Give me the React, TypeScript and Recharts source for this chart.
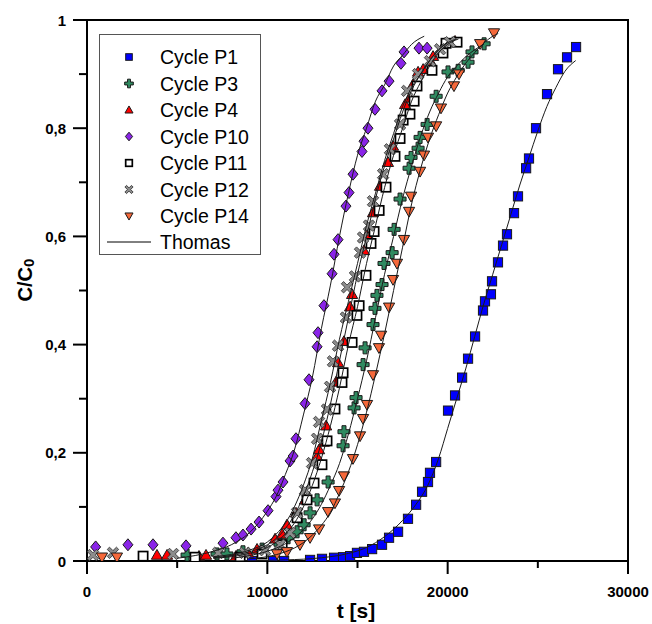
import React from 'react';
import { ScatterChart, Scatter, XAxis, YAxis, Legend, ReferenceArea } from 'recharts';

const FONT = '"Liberation Sans", Arial, Helvetica, sans-serif';

// ---------- data (t [s], C/C0) ----------
const cycleP1: [number, number][] = [
  [9150, 0], [10320, 0], [10930, 0], [12370, 0.002], [13030, 0.004], [13700, 0.006], [14200, 0.007],
  [14590, 0.009], [14970, 0.015], [15360, 0.017], [15810, 0.022], [16360, 0.03], [16750, 0.043],
  [17250, 0.054], [17800, 0.078], [18250, 0.104], [18580, 0.128], [18910, 0.146], [19020, 0.163],
  [19360, 0.183], [20020, 0.278], [20410, 0.306], [20800, 0.339], [21130, 0.374], [21520, 0.415],
  [21960, 0.463], [22070, 0.48], [22400, 0.493], [22460, 0.517], [22790, 0.552], [23070, 0.583],
  [23290, 0.604], [23680, 0.643], [23900, 0.674], [24350, 0.726], [24510, 0.744], [24900, 0.8],
  [25510, 0.863], [26120, 0.909], [26620, 0.931], [27120, 0.95],
];
const cycleP3: [number, number][] = [
  [5550, 0.011], [7210, 0.013], [7760, 0.013], [8650, 0.017], [9710, 0.022], [10700, 0.031],
  [11150, 0.043], [11650, 0.054], [12040, 0.067], [12370, 0.089], [12760, 0.113], [13370, 0.146],
  [14200, 0.213], [14250, 0.239], [14810, 0.283], [14920, 0.302], [15310, 0.363], [15420, 0.394],
  [15860, 0.437], [15970, 0.467], [16080, 0.491], [16360, 0.511], [16470, 0.55], [16920, 0.57],
  [17030, 0.613], [17360, 0.669], [17860, 0.726], [17970, 0.746], [18360, 0.763], [18470, 0.783],
  [18860, 0.807], [19360, 0.859], [20020, 0.904], [20580, 0.907], [21130, 0.922], [21350, 0.941],
  [22020, 0.956],
];
const cycleP4: [number, number][] = [
  [3880, 0.011], [4440, 0.011], [6210, 0.009], [6600, 0.011], [8260, 0.009], [8930, 0.015],
  [9430, 0.022], [10430, 0.041], [10820, 0.05], [11090, 0.067], [11590, 0.089], [12090, 0.113],
  [12760, 0.193], [12870, 0.206], [13140, 0.22], [13260, 0.25], [13810, 0.331], [13920, 0.367],
  [14250, 0.406], [14590, 0.47], [14700, 0.493], [15360, 0.574], [15530, 0.602], [15860, 0.644],
  [16250, 0.693], [16690, 0.737], [16970, 0.767], [17640, 0.844], [17910, 0.856], [18080, 0.881],
  [18360, 0.904], [18640, 0.909], [19080, 0.922], [19190, 0.933], [19850, 0.957], [20410, 0.961],
];
const cycleP10: [number, number][] = [
  [480, 0.026], [2270, 0.03], [3660, 0.03], [5490, 0.028], [7540, 0.033], [8260, 0.043],
  [8650, 0.048], [9100, 0.059], [9540, 0.072], [10040, 0.093], [10480, 0.119], [10590, 0.131],
  [10870, 0.146], [11260, 0.185], [11430, 0.194], [11590, 0.226], [12090, 0.291], [12310, 0.335],
  [12760, 0.396], [12810, 0.422], [13140, 0.472], [13590, 0.531], [13700, 0.567], [13920, 0.594],
  [14360, 0.656], [14530, 0.681], [14750, 0.715], [15250, 0.757], [15360, 0.776], [15580, 0.8],
  [15970, 0.835], [16360, 0.869], [16750, 0.887], [17410, 0.92], [17580, 0.941], [18410, 0.948],
  [18860, 0.948],
];
const cycleP11: [number, number][] = [
  [3110, 0.009], [5990, 0.007], [8490, 0.007], [9710, 0.013], [10820, 0.03], [11650, 0.08],
  [12200, 0.113], [12590, 0.144], [13030, 0.178], [13310, 0.222], [13750, 0.281], [14140, 0.33],
  [14200, 0.348], [14700, 0.404], [14970, 0.454], [15090, 0.472], [15470, 0.528], [15750, 0.587],
  [15920, 0.609], [16200, 0.648], [16580, 0.691], [17080, 0.748], [17360, 0.781], [17530, 0.815],
  [17910, 0.826], [18140, 0.85], [18300, 0.878], [19130, 0.907], [19740, 0.939], [19910, 0.957],
  [20520, 0.959],
];
const cycleP12: [number, number][] = [
  [330, 0.011], [1440, 0.015], [4770, 0.013], [7270, 0.015], [8760, 0.015], [9870, 0.02],
  [10700, 0.03], [11260, 0.052], [11650, 0.089], [12090, 0.131], [12480, 0.181], [12760, 0.226],
  [12870, 0.257], [13310, 0.28], [13480, 0.322], [13640, 0.369], [13920, 0.398], [14360, 0.45],
  [14420, 0.506], [14860, 0.526], [15140, 0.57], [15310, 0.598], [15640, 0.62], [15860, 0.665],
  [16420, 0.715], [16800, 0.761], [17360, 0.807], [17750, 0.869], [18360, 0.9], [19020, 0.924],
  [19580, 0.946], [20130, 0.959],
];
const cycleP14: [number, number][] = [
  [830, 0.007], [1660, 0.007], [10540, 0.013], [11090, 0.017], [11810, 0.03], [12370, 0.043],
  [12870, 0.059], [13370, 0.091], [13750, 0.107], [13980, 0.13], [14250, 0.157], [14750, 0.189],
  [15140, 0.231], [15310, 0.263], [15530, 0.289], [15860, 0.344], [16190, 0.394], [16310, 0.417],
  [16750, 0.469], [16970, 0.52], [17190, 0.55], [17580, 0.594], [17860, 0.646], [17970, 0.674],
  [18470, 0.72], [18690, 0.75], [18910, 0.783], [19360, 0.804], [19630, 0.837], [20350, 0.878],
  [20630, 0.9], [21800, 0.956], [22570, 0.976],
];

// Thomas model curves
const thomasP1: [number, number][] = [
  [8000, 0], [11000, 0.002], [13000, 0.006], [14500, 0.014], [15500, 0.025], [16500, 0.045],
  [17500, 0.075], [18250, 0.105], [18900, 0.14], [19500, 0.19], [20000, 0.245], [20500, 0.3],
  [21000, 0.355], [21500, 0.415], [22000, 0.475], [22500, 0.53], [23000, 0.585], [23500, 0.64],
  [24000, 0.695], [24500, 0.745], [25000, 0.795], [25500, 0.84], [26000, 0.875], [26500, 0.905],
  [27100, 0.925],
];
const thomasP3: [number, number][] = [
  [8000, 0.005], [9000, 0.01], [10000, 0.018], [11000, 0.032], [11500, 0.043], [12000, 0.058],
  [12500, 0.078], [13000, 0.105], [13500, 0.14], [14000, 0.18], [14500, 0.235], [15000, 0.3],
  [15500, 0.37], [16000, 0.45], [16500, 0.53], [17000, 0.6], [17500, 0.67], [18000, 0.73],
  [18500, 0.785], [19000, 0.83], [19500, 0.865], [20000, 0.895], [20500, 0.915], [21000, 0.932],
  [21500, 0.945], [22000, 0.955],
];
const thomasP4: [number, number][] = [
  [7000, 0.006], [8000, 0.01], [9000, 0.017], [10000, 0.03], [10500, 0.042], [11000, 0.06],
  [11500, 0.085], [12000, 0.12], [12500, 0.165], [13000, 0.22], [13500, 0.29], [14000, 0.37],
  [14500, 0.45], [15000, 0.53], [15500, 0.6], [16000, 0.67], [16500, 0.73], [17000, 0.78],
  [17500, 0.83], [18000, 0.87], [18500, 0.9], [19000, 0.925], [19500, 0.945], [20000, 0.958],
  [20500, 0.965],
];
const thomasP10: [number, number][] = [
  [5000, 0.005], [7000, 0.018], [8000, 0.03], [9000, 0.052], [10000, 0.092], [10500, 0.12],
  [11000, 0.16], [11500, 0.205], [12000, 0.27], [12500, 0.34], [13000, 0.43], [13500, 0.51],
  [14000, 0.6], [14500, 0.68], [15000, 0.75], [15500, 0.8], [16000, 0.85], [16500, 0.88],
  [17000, 0.915], [17500, 0.935], [18000, 0.955], [18700, 0.97],
];
const thomasP11: [number, number][] = [
  [7000, 0.005], [8000, 0.008], [9000, 0.014], [10000, 0.025], [10500, 0.035], [11000, 0.05],
  [11500, 0.07], [12000, 0.1], [12500, 0.14], [13000, 0.19], [13500, 0.25], [14000, 0.32],
  [14500, 0.4], [15000, 0.47], [15500, 0.55], [16000, 0.62], [16500, 0.69], [17000, 0.75],
  [17500, 0.8], [18000, 0.85], [18500, 0.885], [19000, 0.915], [19500, 0.94], [20000, 0.955],
  [20600, 0.965],
];
const thomasP12: [number, number][] = [
  [7000, 0.008], [8000, 0.012], [9000, 0.02], [10000, 0.035], [10500, 0.05], [11000, 0.07],
  [11500, 0.1], [12000, 0.14], [12500, 0.19], [13000, 0.26], [13500, 0.33], [14000, 0.41],
  [14500, 0.48], [15000, 0.55], [15500, 0.62], [16000, 0.68], [16500, 0.74], [17000, 0.79],
  [17500, 0.84], [18000, 0.875], [18500, 0.9], [19000, 0.925], [19500, 0.945], [20000, 0.96],
];
const thomasP14: [number, number][] = [
  [9000, 0.004], [10000, 0.008], [11000, 0.017], [11500, 0.024], [12000, 0.034], [12500, 0.048],
  [13000, 0.066], [13500, 0.09], [14000, 0.125], [14500, 0.165], [15000, 0.215], [15500, 0.275],
  [16000, 0.345], [16500, 0.42], [17000, 0.5], [17500, 0.58], [18000, 0.66], [18500, 0.725],
  [19000, 0.78], [19500, 0.825], [20000, 0.865], [20500, 0.895], [21000, 0.92], [21500, 0.94],
  [22000, 0.957], [22500, 0.97], [22800, 0.975],
];

const xTicks = [0, 5000, 10000, 15000, 20000, 25000, 30000];
const yTicks = [0, 0.1, 0.2, 0.3, 0.4, 0.5, 0.6, 0.7, 0.8, 0.9, 1];
const yTickLabels: Record<number, string> = { 0: '0', 2: '0,2', 4: '0,4', 6: '0,6', 8: '0,8', 10: '1' };

type Kind = 'square' | 'plus' | 'tri' | 'diamond' | 'open' | 'x' | 'tridown';

const series: { name: string; kind: Kind; data: [number, number][] }[] = [
  { name: 'Cycle P1', kind: 'square', data: cycleP1 },
  { name: 'Cycle P3', kind: 'plus', data: cycleP3 },
  { name: 'Cycle P4', kind: 'tri', data: cycleP4 },
  { name: 'Cycle P10', kind: 'diamond', data: cycleP10 },
  { name: 'Cycle P11', kind: 'open', data: cycleP11 },
  { name: 'Cycle P12', kind: 'x', data: cycleP12 },
  { name: 'Cycle P14', kind: 'tridown', data: cycleP14 },
];
const thomasCurves = [thomasP1, thomasP3, thomasP4, thomasP10, thomasP11, thomasP12, thomasP14];

const toRows = (arr: [number, number][]) => arr.map(([t, c]) => ({ t, c }));

const OUT = '#1a1a1a';

function Marker({ kind, cx, cy, s = 1 }: { kind: Kind; cx: number; cy: number; s?: number }) {
  if (cx == null || cy == null) return <g />;
  switch (kind) {
    case 'square': {
      const h = 4.6 * s;
      return <rect x={cx - h} y={cy - h} width={2 * h} height={2 * h} fill="#0000ff" stroke={OUT} strokeWidth={1} />;
    }
    case 'open': {
      const h = 4.6 * s;
      return <rect x={cx - h} y={cy - h} width={2 * h} height={2 * h} fill="#ffffff" stroke="#000" strokeWidth={1.7} />;
    }
    case 'plus': {
      const a = 6 * s, w = 2 * s;
      const pts = [
        [cx - w, cy - a], [cx + w, cy - a], [cx + w, cy - w], [cx + a, cy - w], [cx + a, cy + w], [cx + w, cy + w],
        [cx + w, cy + a], [cx - w, cy + a], [cx - w, cy + w], [cx - a, cy + w], [cx - a, cy - w], [cx - w, cy - w],
      ].map((p) => p.join(',')).join(' ');
      return <polygon points={pts} fill="#2f8a60" stroke={OUT} strokeWidth={1} />;
    }
    case 'x': {
      const a = 6.5 * s, w = 1.6 * s;
      const pts = [
        [cx - w, cy - a], [cx + w, cy - a], [cx + w, cy - w], [cx + a, cy - w], [cx + a, cy + w], [cx + w, cy + w],
        [cx + w, cy + a], [cx - w, cy + a], [cx - w, cy + w], [cx - a, cy + w], [cx - a, cy - w], [cx - w, cy - w],
      ].map((p) => p.join(',')).join(' ');
      return <polygon points={pts} fill="#8c8c8c" stroke="#333" strokeWidth={0.8} transform={`rotate(45 ${cx} ${cy})`} />;
    }
    case 'tri': {
      const r = 5.6 * s;
      return <polygon points={`${cx},${cy - r} ${cx + r},${cy + r * 0.75} ${cx - r},${cy + r * 0.75}`} fill="#ff0000" stroke={OUT} strokeWidth={1} />;
    }
    case 'tridown': {
      const r = 5.6 * s;
      return <polygon points={`${cx},${cy + r} ${cx + r},${cy - r * 0.75} ${cx - r},${cy - r * 0.75}`} fill="#f5683a" stroke={OUT} strokeWidth={1} />;
    }
    case 'diamond': {
      const h = 6 * s, w = 5 * s;
      return <polygon points={`${cx},${cy - h} ${cx + w},${cy} ${cx},${cy + h} ${cx - w},${cy}`} fill="#8a24e8" stroke={OUT} strokeWidth={1} />;
    }
  }
  return <g />;
}

const XTick = (props: any) => {
  const { x, y, payload } = props;
  const v = payload.value as number;
  const major = v % 10000 === 0;
  return (
    <g>
      <line x1={x} x2={x} y1={y} y2={y + (major ? 13 : 7)} stroke="#000" strokeWidth={2} />
      {major && (
        <text x={x} y={y + 36} textAnchor="middle" fontFamily={FONT} fontWeight="bold" fontSize={15} fill="#000">
          {String(v)}
        </text>
      )}
    </g>
  );
};

const YTick = (props: any) => {
  const { x, y, payload } = props;
  const k = Math.round((payload.value as number) * 10);
  const major = k % 2 === 0;
  return (
    <g>
      <line x1={x - (major ? 14 : 8)} x2={x} y1={y} y2={y} stroke="#000" strokeWidth={2} />
      {major && (
        <text x={x - 21} y={y + 5.5} textAnchor="end" fontFamily={FONT} fontWeight="bold" fontSize={15} fill="#000">
          {yTickLabels[k]}
        </text>
      )}
    </g>
  );
};

const LegendBox = () => {
  const w = 162, h = 221;
  return (
    <div style={{ width: w, height: h }}>
      <svg width={w} height={h} style={{ display: 'block' }}>
        <rect x={0.5} y={0.5} width={w - 1} height={h - 1} fill="#fff" stroke="#555" strokeWidth={1} />
        {series.map((s, i) => {
          const cy = 23 + i * 26.5;
          return (
            <g key={s.name}>
              <Marker kind={s.kind} cx={30} cy={cy} s={0.72} />
              <text x={61} y={cy + 7} fontFamily={FONT} fontSize={19.5} fill="#000">{s.name}</text>
            </g>
          );
        })}
        <line x1={8} x2={52} y1={208} y2={208} stroke="#000" strokeWidth={1} />
        <text x={61} y={215} fontFamily={FONT} fontSize={19.5} fill="#000">Thomas</text>
      </svg>
    </div>
  );
};

export default function App() {
  return (
    <div style={{ position: 'absolute', left: 0, top: 0, width: 652, height: 624 }}>
      <ScatterChart width={652} height={624} margin={{ top: 20, right: 24, bottom: 23, left: 27 }}>
        <XAxis
          type="number"
          dataKey="t"
          domain={[0, 30000]}
          ticks={xTicks}
          interval={0}
          height={40}
          tickSize={0}
          tickMargin={0}
          tickLine={false}
          axisLine={{ stroke: '#000', strokeWidth: 2 }}
          tick={<XTick />}
          allowDataOverflow
          label={{
            content: () => (
              <text x={356} y={618} textAnchor="middle" fontFamily={FONT} fontWeight="bold" fontSize={21} fill="#000">
                t [s]
              </text>
            ),
          }}
        />
        <YAxis
          type="number"
          dataKey="c"
          domain={[0, 1]}
          ticks={yTicks}
          interval={0}
          width={60}
          tickSize={0}
          tickMargin={0}
          tickLine={false}
          axisLine={{ stroke: '#000', strokeWidth: 2 }}
          tick={<YTick />}
          allowDataOverflow
          label={{
            content: () => (
              <text
                x={32}
                y={280}
                transform="rotate(-90 32 280)"
                textAnchor="middle"
                fontFamily={FONT}
                fontWeight="bold"
                fontSize={20}
                fill="#000"
              >
                C/C<tspan fontSize={15} dy={2}>0</tspan>
              </text>
            ),
          }}
        />
        <ReferenceArea x1={0} x2={30000} y1={0} y2={1} fill="none" fillOpacity={0} stroke="#000" strokeWidth={2} ifOverflow="visible" />
        {series.map((s) => (
          <Scatter
            key={s.name}
            name={s.name}
            data={toRows(s.data)}
            isAnimationActive={false}
            shape={(p: any) => <Marker kind={s.kind} cx={p.cx} cy={p.cy} />}
          />
        ))}
        {thomasCurves.map((c, i) => (
          <Scatter
            key={'thomas' + i}
            name={i === 0 ? 'Thomas' : 'Thomas' + i}
            data={toRows(c)}
            isAnimationActive={false}
            line={{ stroke: '#1a1a1a', strokeWidth: 1 }}
            lineJointType="monotoneX"
            legendType="none"
            shape={() => <g />}
          />
        ))}
        <Legend
          layout="vertical"
          align="center"
          verticalAlign="middle"
          wrapperStyle={{ position: 'absolute', left: 99, top: 34, width: 162, height: 221 }}
          content={() => <LegendBox />}
        />
      </ScatterChart>
    </div>
  );
}
